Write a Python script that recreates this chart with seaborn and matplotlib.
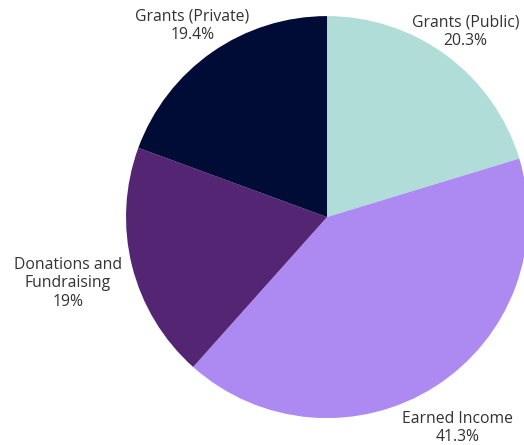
import matplotlib
matplotlib.use("Agg")
import matplotlib.pyplot as plt
import seaborn as sns

categories = ["Grants (Public)", "Earned Income", "Donations and\nFundraising", "Grants (Private)"]
values = [20.3, 41.3, 19.0, 19.4]
pct_labels = ["20.3%", "41.3%", "19%", "19.4%"]
colors = ["#B0DDD8", "#AD89F2", "#542572", "#000B36"]

sns.set_theme(style="white")
plt.rcParams['font.family'] = ['Open Sans', 'DejaVu Sans']

fig = plt.figure(figsize=(5.24, 4.45), dpi=100)
ax = fig.add_axes([0, 0, 1, 1])
wedges, _ = ax.pie(values, colors=colors, startangle=90, counterclock=False,
                   wedgeprops=dict(linewidth=0))

label_pos = [(0.69, 0.92), (0.65, -1.05), (-1.29, -0.33), (-0.67, 0.95)]
for name, pct, (x, y) in zip(categories, pct_labels, label_pos):
    ax.text(x, y, f"{name}\n{pct}", ha="center", va="center", fontsize=11.3,
            color="#333333", linespacing=1.22)

ax.set_xlim(-1.627, 0.980)
ax.set_ylim(-1.134, 1.080)
ax.set_aspect('auto')
ax.axis('off')
fig.savefig("out.png", dpi=100, facecolor="white")
